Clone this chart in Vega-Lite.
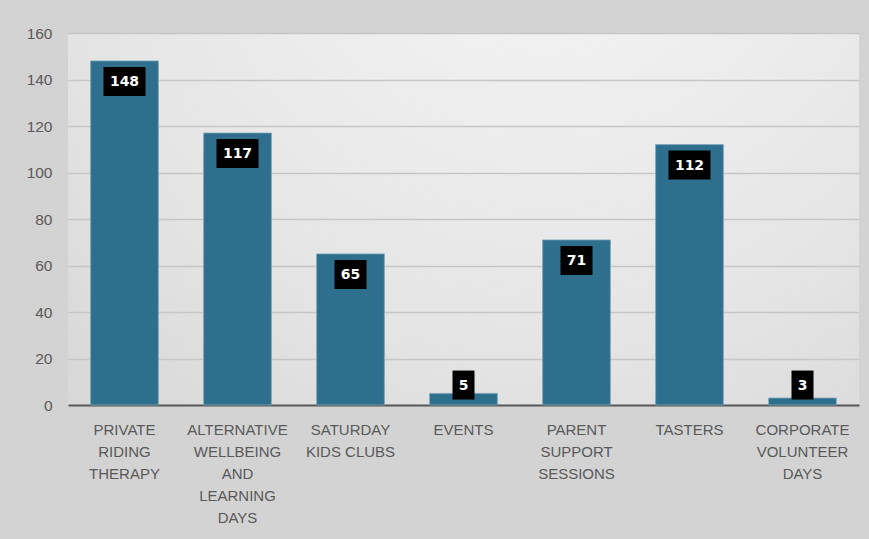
{
  "$schema": "https://vega.github.io/schema/vega-lite/v6.json",
  "width": 791,
  "height": 372,
  "autosize": "none",
  "padding": {"left": 68, "top": 33, "right": 10, "bottom": 134},
  "background": "#d3d3d3",
  "config": {
    "view": {
      "stroke": null,
      "fill": {
        "gradient": "radial",
        "x1": 0.6, "y1": 0.05, "r1": 0,
        "x2": 0.6, "y2": 0.05, "r2": 1.0,
        "stops": [
          {"offset": 0, "color": "#f7f7f7"},
          {"offset": 0.6, "color": "#e5e5e5"},
          {"offset": 1, "color": "#d3d3d3"}
        ]
      }
    },
    "font": "Liberation Sans"
  },
  "data": {
    "values": [
      {"category": "PRIVATE|RIDING|THERAPY", "value": 148},
      {"category": "ALTERNATIVE|WELLBEING|AND|LEARNING|DAYS", "value": 117},
      {"category": "SATURDAY|KIDS CLUBS", "value": 65},
      {"category": "EVENTS", "value": 5},
      {"category": "PARENT|SUPPORT|SESSIONS", "value": 71},
      {"category": "TASTERS", "value": 112},
      {"category": "CORPORATE|VOLUNTEER|DAYS", "value": 3}
    ]
  },
  "transform": [
    {"calculate": "max(datum.value, 17.4)", "as": "labelPos"},
    {"calculate": "length(toString(datum.value)) == 3 ? 'M-21,6H21V35H-21Z' : (length(toString(datum.value)) == 2 ? 'M-16,6H16V35H-16Z' : 'M-11,6H11V35H-11Z')", "as": "boxPath"}
  ],
  "encoding": {
    "x": {
      "field": "category",
      "type": "nominal",
      "sort": null,
      "scale": {"paddingInner": 0.4, "paddingOuter": 0.2},
      "axis": {
        "title": null,
        "labelExpr": "split(datum.label, '|')",
        "labelAngle": 0,
        "labelFontSize": 15,
        "labelColor": "#595959",
        "labelLineHeight": 22,
        "labelPadding": 17,
        "labelBaseline": "top",
        "ticks": false,
        "domainColor": "#595959",
        "domainWidth": 2,
        "labelLimit": 200
      }
    }
  },
  "layer": [
    {
      "mark": {"type": "bar", "color": "#2f6f8e", "stroke": "#7fa6b8", "strokeWidth": 0.8},
      "encoding": {
        "y": {
          "field": "value",
          "type": "quantitative",
          "scale": {"domain": [0, 160]},
          "axis": {
            "title": null,
            "values": [0, 20, 40, 60, 80, 100, 120, 140, 160],
            "labelFontSize": 15.5,
            "labelColor": "#595959",
            "labelPadding": 16,
            "ticks": false,
            "domain": false,
            "gridColor": "#c6c6c6",
            "gridWidth": 1.5
          }
        }
      }
    },
    {
      "mark": {"type": "point", "filled": true, "size": 4, "color": "#000000", "opacity": 1},
      "encoding": {
        "y": {"field": "labelPos", "type": "quantitative"},
        "shape": {"field": "boxPath", "type": "nominal", "scale": null}
      }
    },
    {
      "mark": {"type": "text", "color": "#ffffff", "font": "DejaVu Sans", "fontWeight": "bold", "fontSize": 14, "dy": 21, "baseline": "middle", "align": "center"},
      "encoding": {
        "y": {"field": "labelPos", "type": "quantitative"},
        "text": {"field": "value", "type": "quantitative"}
      }
    }
  ]
}
